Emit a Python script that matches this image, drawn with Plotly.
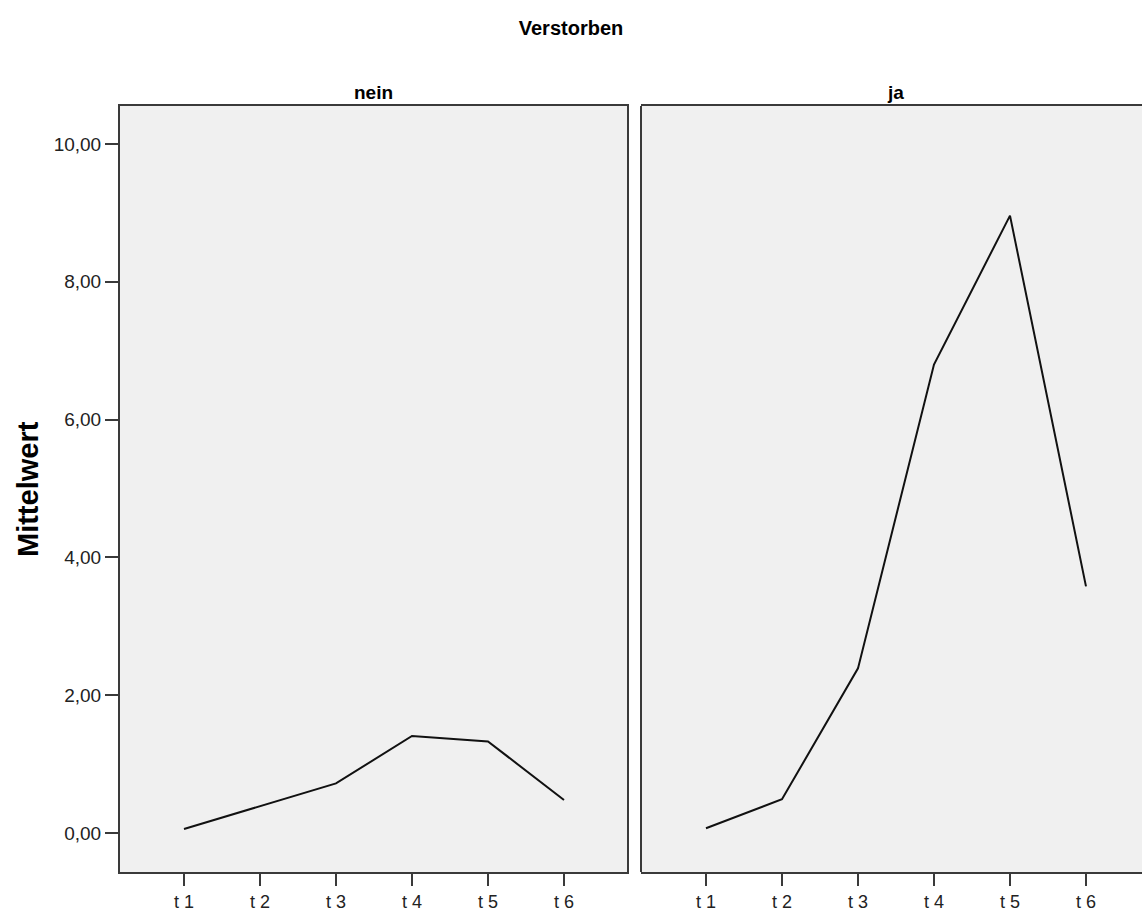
import plotly.graph_objects as go

# Mean values per time point, split by "Verstorben"
zeitpunkte = ["t 1", "t 2", "t 3", "t 4", "t 5", "t 6"]
mittel_nein = [0.06, 0.39, 0.72, 1.41, 1.33, 0.48]
mittel_ja = [0.07, 0.49, 2.39, 6.80, 8.96, 3.58]
y_ticks = [0, 2, 4, 6, 8, 10]

W, H = 1142, 913
ML, MR, MT, MB = 120, 0, 106, 41
plot_w = W - ML - MR

FONT = "Liberation Sans, Arial, sans-serif"
LINE_COL = "#3a3a3a"
PANEL_BG = "#f0f0f0"

fig = go.Figure()

fig.add_trace(go.Scatter(x=zeitpunkte, y=mittel_nein, mode="lines",
                         line=dict(color="#111111", width=2),
                         xaxis="x", yaxis="y", hoverinfo="skip"))
fig.add_trace(go.Scatter(x=zeitpunkte, y=mittel_ja, mode="lines",
                         line=dict(color="#111111", width=2),
                         xaxis="x2", yaxis="y2", hoverinfo="skip"))

# panel geometry in pixels
left_px = (120, 627)
right_px = (641, 1142)
dom_left = [(left_px[0] - ML) / plot_w, (left_px[1] - ML) / plot_w]
dom_right = [(right_px[0] - ML) / plot_w, 1.0]

xcommon = dict(type="category", categoryorder="array", categoryarray=zeitpunkte,
               showgrid=False, zeroline=False, showline=True, linecolor=LINE_COL,
               linewidth=2, mirror=True, ticks="outside", ticklen=12, tickwidth=2,
               tickcolor=LINE_COL, tickfont=dict(family=FONT, size=18, color="#222222"),
               fixedrange=True)

ycommon = dict(range=[-0.565, 10.551], showgrid=False, zeroline=False,
               fixedrange=True)

fig.update_layout(
    width=W, height=H,
    margin=dict(l=ML, r=MR, t=MT, b=MB),
    paper_bgcolor="white",
    plot_bgcolor=PANEL_BG,
    separators=",.",
    showlegend=False,
    hovermode=False,
    title=dict(text="<b>Verstorben</b>", x=0.5, xanchor="center",
               y=1 - 28 / H, yanchor="middle", yref="container",
               font=dict(family=FONT, size=20, color="#000000")),
    xaxis=dict(domain=dom_left, range=[-0.842, 5.829], anchor="y", **xcommon),
    xaxis2=dict(domain=dom_right, range=[-0.855, 5.737], anchor="y2", **xcommon),
    yaxis=dict(domain=[0, 1], anchor="x", showline=True, linecolor=LINE_COL,
               linewidth=2, mirror=True, ticks="outside",
               ticklen=13, tickwidth=2, tickcolor=LINE_COL,
               tickvals=y_ticks, tickformat=".2f",
               tickfont=dict(family=FONT, size=19, color="#222222"), **ycommon),
    yaxis2=dict(domain=[0, 1], anchor="x2", showline=False, ticks="",
                showticklabels=False, **ycommon),
)

# left edge of the right-hand panel (its right edge runs off the page)
fig.add_shape(type="line", xref="paper", yref="paper",
              x0=dom_right[0], x1=dom_right[0], y0=0, y1=1,
              line=dict(color=LINE_COL, width=2))

# panel headers and the value-axis title
fig.add_annotation(text="<b>nein</b>", xref="paper", yref="paper",
                   x=(sum(left_px) / 2 - ML) / plot_w, y=1, yshift=1,
                   xanchor="center", yanchor="bottom", showarrow=False,
                   font=dict(family=FONT, size=19, color="#000000"))
fig.add_annotation(text="<b>ja</b>", xref="paper", yref="paper",
                   x=(895 - ML) / plot_w, y=1, yshift=1,
                   xanchor="center", yanchor="bottom", showarrow=False,
                   font=dict(family=FONT, size=19, color="#000000"))
fig.add_annotation(text="<b>Mittelwert</b>", xref="paper", yref="paper",
                   x=(28 - ML) / plot_w, y=0.5, textangle=-90,
                   xanchor="center", yanchor="middle", showarrow=False,
                   font=dict(family=FONT, size=29, color="#000000"))

fig.write_html("out.html", config={"displayModeBar": False})
